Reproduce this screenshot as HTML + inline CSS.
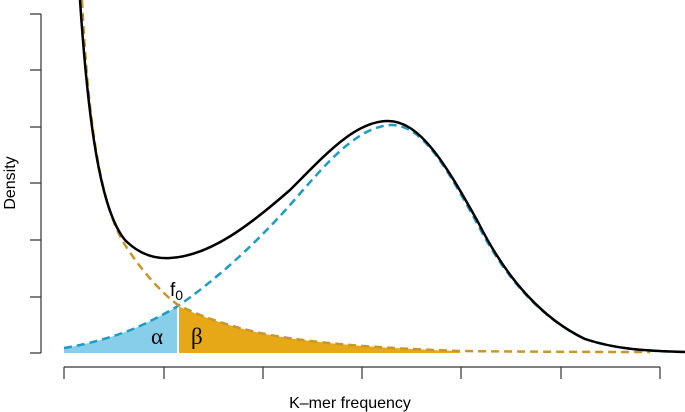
<!DOCTYPE html>
<html><head><style>body{margin:0;background:#fff}svg{display:block}</style></head><body>
<svg width="685" height="412" xmlns="http://www.w3.org/2000/svg" font-family="Liberation Sans, sans-serif">
<path d="M64,353 L64,348 C90,344 120,335 140,326 C155,319 168,312 178,306 L178,353 Z" fill="#87CEEB"/>
<path d="M178,353 L178,306 C200,316 225,325 260,333 C300,341 350,347 460,351 L460,353 Z" fill="#E6A817"/>
<line x1="178" y1="305" x2="178" y2="353" stroke="#fff" stroke-width="2"/>
<path d="M64,348 C90,344 120,335 140,326 C155,319 168,312 178,306 C210,284 250,250 290,205 C325,165 355,128 390,125 C422,124 445,165 478,225 C508,283 545,320 585,339 C615,349 645,351 685,352" fill="none" stroke="#1E9BC4" stroke-width="2.5" stroke-dasharray="8,5"/>
<path d="M82,0 C88,120 100,205 125,245 C140,268 158,290 178,305 C200,316 225,325 260,333 C300,341 350,347 460,351 C550,352 620,352 650,352" fill="none" stroke="#C9962A" stroke-width="2.5" stroke-dasharray="8,5"/>
<path d="M80,0 C88,120 100,210 125,240 C140,255 155,259 170,258 C210,256 250,225 290,190 C325,155 355,121 388,121 C420,121 445,163 478,222 C508,282 545,320 585,339 C615,349 645,351 685,352" fill="none" stroke="#000" stroke-width="2.5"/>
<g stroke="#333" stroke-width="1.2" fill="none">
<path d="M41,14 V353"/>
<path d="M30,14H41M30,70H41M30,127H41M30,183H41M30,240H41M30,297H41M30,353H41"/>
<path d="M64,367 H660"/>
<path d="M64,367V379M164,367V379M263,367V379M362,367V379M461,367V379M561,367V379M660,367V379"/>
</g>
<text x="170" y="296" font-size="19">f<tspan font-size="14" dy="4">0</tspan></text>
<text x="151" y="344" font-size="23" font-family="Liberation Serif, serif">α</text>
<text x="191" y="344" font-size="23" font-family="Liberation Serif, serif">β</text>
<text x="350" y="408" font-size="16" text-anchor="middle">K–mer frequency</text>
<text transform="translate(15,183) rotate(-90)" font-size="16" text-anchor="middle">Density</text>
</svg>
</body></html>
